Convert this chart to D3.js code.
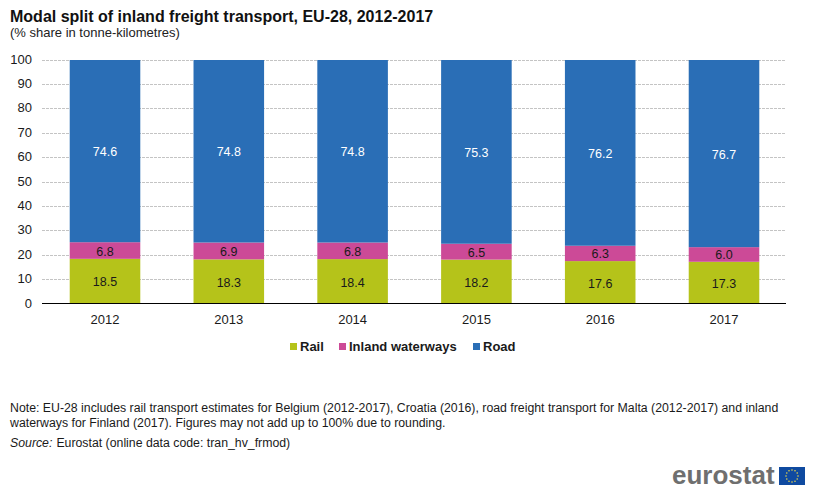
<!DOCTYPE html>
<html><head><meta charset="utf-8">
<script src="https://cdn.jsdelivr.net/npm/d3@7/dist/d3.min.js"></script>
<style>html,body{margin:0;padding:0;background:#fff}svg{display:block}text{font-family:"Liberation Sans",Arial,sans-serif}</style>
</head><body><svg id="c" width="823" height="503"></svg>
<script>
const years = ["2012","2013","2014","2015","2016","2017"];
const rail = [18.5,18.3,18.4,18.2,17.6,17.3];
const waterways = [6.8,6.9,6.8,6.5,6.3,6.0];
const road = [74.6,74.8,74.8,75.3,76.2,76.7];
const seriesNames = ["Rail","Inland waterways","Road"];
const colors = ["#b5c31a","#cc4a97","#2a6eb6"];
const labelColors = ["#1a1a1a","#1a1a1a","#ffffff"];
const yTicks = [0,10,20,30,40,50,60,70,80,90,100];
const titleText = "Modal split of inland freight transport, EU-28, 2012-2017";
const subtitleText = "(% share in tonne-kilometres)";
const noteLines = ["Note: EU-28 includes rail transport estimates for Belgium (2012-2017), Croatia (2016), road freight transport for Malta (2012-2017) and inland",
 "waterways for Finland (2017). Figures may not add up to 100% due to rounding."];

const svg = d3.select("#c");
const x = d3.scaleBand().domain(years).range([43.1,785.9]).paddingInner(0.43).paddingOuter(0.215);
const y = d3.scaleLinear().domain([0,1]).range([304,60]);
const yPct = d3.scaleLinear().domain([0,100]).range([304,60]);

const rows = years.map((yr,i)=>({year:yr,Rail:rail[i],"Inland waterways":waterways[i],Road:road[i]}));
const stacked = d3.stack().keys(seriesNames).offset(d3.stackOffsetExpand)(rows);

const yAxis = d3.axisLeft(yPct).tickValues(yTicks).tickSize(0).tickPadding(10).tickFormat(d3.format("d"));
const gy = svg.append("g").attr("transform","translate(42,-1)").call(yAxis);
gy.select(".domain").remove();
gy.selectAll("text").attr("font-size",13).attr("fill","#1a1a1a");
svg.append("g").selectAll("line").data(yTicks.filter(d=>d>0)).join("line")
  .attr("x1",42).attr("x2",786).attr("y1",d=>Math.floor(yPct(d))+0.5).attr("y2",d=>Math.floor(yPct(d))+0.5)
  .attr("stroke","#c4c4c4").attr("stroke-dasharray","3 1");

svg.append("g").selectAll("g").data(stacked).join("g").attr("fill",(d,i)=>colors[i])
  .selectAll("rect").data(d=>d).join("rect")
  .attr("x",d=>x(d.data.year)).attr("width",x.bandwidth())
  .attr("y",d=>y(d[1])).attr("height",d=>y(d[0])-y(d[1]));

svg.append("g").selectAll("g").data(stacked).join("g").each(function(s,i){
  d3.select(this).selectAll("text").data(s).join("text")
    .attr("x",d=>x(d.data.year)+x.bandwidth()/2).attr("y",d=>(y(d[0])+y(d[1]))/2+5)
    .attr("text-anchor","middle").attr("font-size",12.5).attr("fill",labelColors[i])
    .text(d=>d3.format(".1f")(d.data[s.key]));
});

const xAxis = d3.axisBottom(x).tickSize(0).tickPadding(12);
const gx = svg.append("g").attr("transform","translate(0,303)").call(xAxis);
gx.select(".domain").remove();
gx.selectAll("text").attr("font-size",13).attr("fill","#1a1a1a");
svg.append("line").attr("x1",42).attr("x2",786).attr("y1",303.5).attr("y2",303.5).attr("stroke","#000");

svg.append("text").attr("x",10).attr("y",22).attr("font-size",16).attr("font-weight","bold").attr("fill","#111").text(titleText);
svg.append("text").attr("x",10).attr("y",37).attr("font-size",13).attr("fill","#222").text(subtitleText);

const legendX = [290,339,473];
const legend = svg.append("g").selectAll("g").data(seriesNames).join("g").attr("transform",(d,i)=>`translate(${legendX[i]},343)`);
legend.append("rect").attr("width",7).attr("height",7).attr("fill",(d,i)=>colors[i]);
legend.append("text").attr("x",10).attr("y",8).attr("font-size",13).attr("font-weight","bold").attr("fill","#1a1a1a").text(d=>d);

svg.append("g").selectAll("text").data(noteLines).join("text")
  .attr("x",10).attr("y",(d,i)=>412+i*15).attr("font-size",12.3).attr("fill","#1a1a1a").text(d=>d);
const src = svg.append("text").attr("x",10).attr("y",447).attr("font-size",12.3).attr("fill","#1a1a1a");
src.append("tspan").attr("font-style","italic").text("Source:");
src.append("tspan").attr("dx",4).text("Eurostat (online data code: tran_hv_frmod)");

const logo = svg.append("g");
logo.append("text").attr("x",672).attr("y",484).attr("font-size",26).attr("font-weight","bold").attr("fill","#6f6f6f").text("eurostat");
logo.append("rect").attr("x",779).attr("y",467).attr("width",26).attr("height",18).attr("fill","#0f4aa0");
logo.append("g").selectAll("circle").data(d3.range(12)).join("circle")
  .attr("cx",d=>792+6*Math.cos(d*Math.PI/6)).attr("cy",d=>476+6*Math.sin(d*Math.PI/6))
  .attr("r",0.8).attr("fill","#e9d64a");
</script></body></html>
